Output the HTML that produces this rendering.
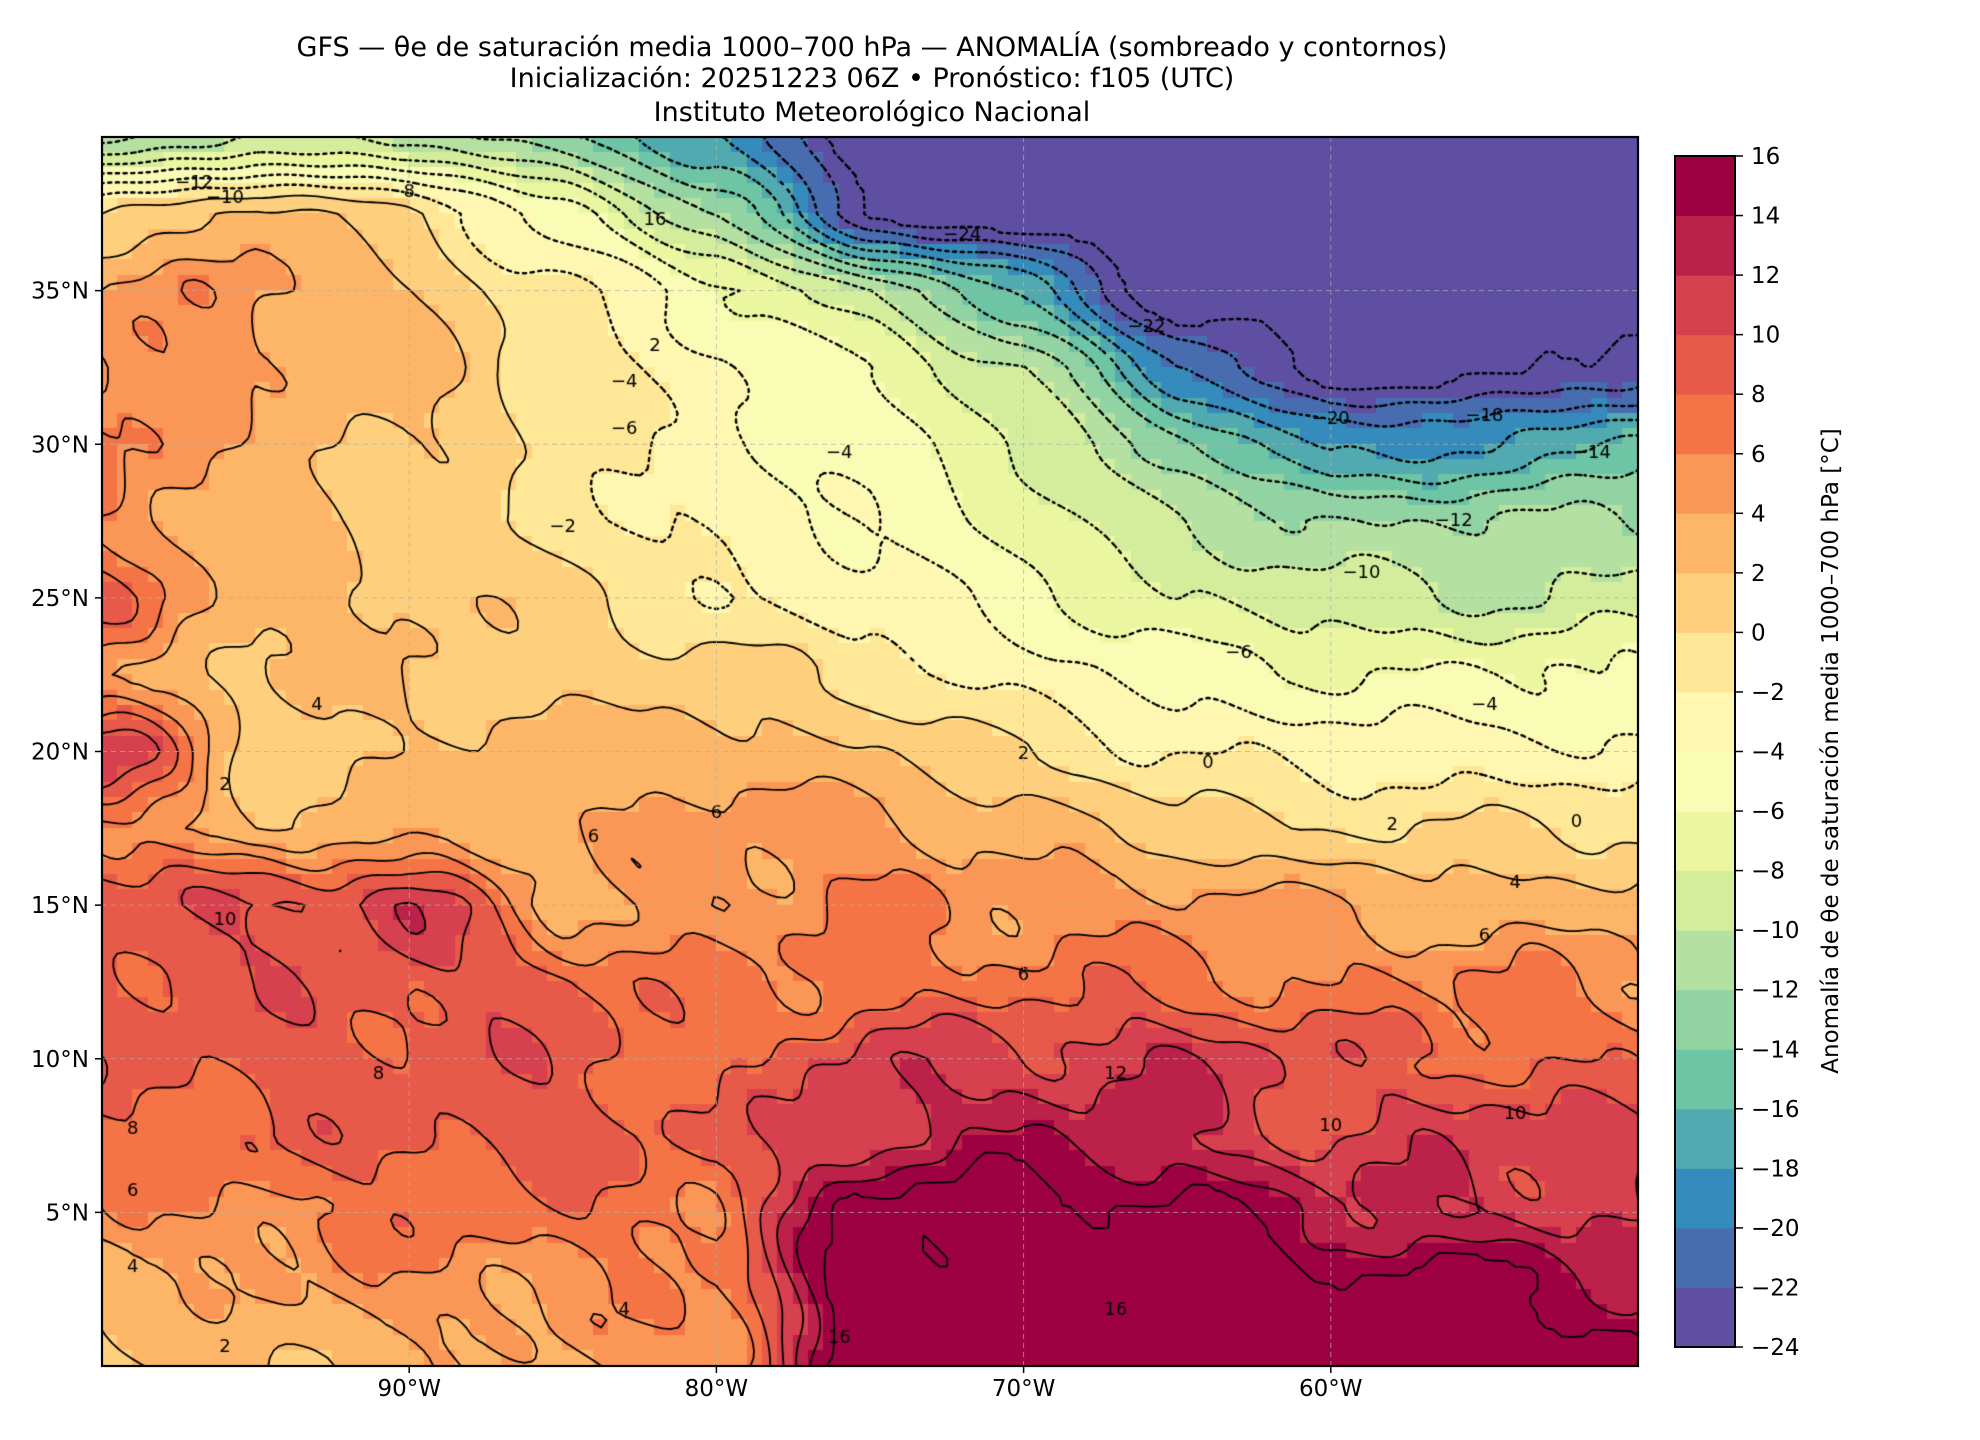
<!DOCTYPE html>
<html><head><meta charset="utf-8"><style>
html,body{margin:0;padding:0;background:#fff;}
#wrap{position:relative;width:1980px;height:1440px;overflow:hidden;font-family:"DejaVu Sans","Liberation Sans",sans-serif;color:#000;}
#cv{position:absolute;left:102px;top:137px;}
svg{position:absolute;left:0;top:0;}
</style></head><body><div id="wrap">
<canvas id="cv" width="1536" height="1229"></canvas>
<svg id="sv" width="1980" height="1440" xmlns="http://www.w3.org/2000/svg" font-family="DejaVu Sans, Liberation Sans, sans-serif">
<g text-anchor="middle" font-size="27">
<text x="872" y="56">GFS — θe de saturación media 1000–700 hPa — ANOMALÍA (sombreado y contornos)</text>
<text x="872" y="87">Inicialización: 20251223 06Z   •   Pronóstico: f105 (UTC)</text>
<text x="872" y="121">Instituto Meteorológico Nacional</text>
</g>
<g id="grid" stroke="#b0b0b0" stroke-width="1" stroke-dasharray="5,4" opacity="0.7"></g>
<rect x="102" y="137" width="1536" height="1229" fill="none" stroke="#000" stroke-width="2.2"/>
<g id="ticks" font-size="23"></g>
<g id="cbar"></g>
<text transform="translate(1838,751) rotate(-90)" text-anchor="middle" font-size="23">Anomalía de θe de saturación media 1000–700 hPa [°C]</text>
</svg>
</div>
<script>
var G=[
[-13,-10,-10,-14,-18,-25,-26,-26,-26,-26,-26],
[0,3,0,-5,-12,-24,-26,-26,-26,-26,-26],
[4,5,2,-2,-5,-10,-17,-26,-26,-26,-26],
[7,4,3,-1,-4,-6,-10,-20,-25,-25,-23],
[7,3,2,-1,-3,-5,-8,-13,-19,-18,-15],
[6,3,1,-1,-3,-4,-7,-10,-12,-12,-12],
[8,3,2,1,-2,-3,-5,-8,-9,-10,-9],
[4,2,2,1,1,-1,-3,-5,-6,-6,-6],
[12,1,2,3,3,2,0,-2,-3,-3,-4],
[7,2,3,4,5,5,3,1,0,0,0],
[9,10,12,3,5,6,5,5,4,3,3],
[9,9,9,9,6,7,7,7,6,6,5],
[9,9,9,9,7,11,11,12,9,8,7],
[7,8,9,9,8,12,14,12,10,11,11],
[5,6,7,7,7,17,17,17,13,12,11],
[3,4,5,5,6,18,18,18,17,17,14],
[2,2,3,4,5,18,18,18,18,18,18]];
function base(lon,lat){
 var r=(40-lat)/2.5,c=(lon+100)/5;
 r=Math.max(0,Math.min(15.999,r));c=Math.max(0,Math.min(9.999,c));
 var r0=Math.floor(r),c0=Math.floor(c),fr=r-r0,fc=c-c0;
 fr=fr*fr*(3-2*fr)*0.5+fr*0.5; fc=fc*fc*(3-2*fc)*0.5+fc*0.5;
 return G[r0][c0]*(1-fr)*(1-fc)+G[r0][c0+1]*(1-fr)*fc+G[r0+1][c0]*fr*(1-fc)+G[r0+1][c0+1]*fr*fc;
}
function f(lon,lat){
 var v=base(lon,lat);
 var n=Math.sin(lon*0.9+lat*0.4)*0.6+Math.sin(lat*1.3-lon*0.5+1.7)*0.5+Math.sin(lon*2.1+lat*1.9)*0.35;
 var amp=v>4?1.3:0.7;
 v=v+n*amp;
 if(v<-24)v=-25; if(v>16)v=17;
 return v;
}
var stops=["#5e4fa2","#3288bd","#66c2a5","#abdda4","#e6f598","#ffffbf","#fee08b","#fdae61","#f46d43","#d53e4f","#9e0142"];
function hx(h){return [parseInt(h.substr(1,2),16),parseInt(h.substr(3,2),16),parseInt(h.substr(5,2),16)];}
function cmap(t){var p=t*10,i=Math.min(9,Math.floor(p)),u=p-i,a=hx(stops[i]),b=hx(stops[i+1]);
 return "rgb("+Math.round(a[0]+(b[0]-a[0])*u)+","+Math.round(a[1]+(b[1]-a[1])*u)+","+Math.round(a[2]+(b[2]-a[2])*u)+")";}
function binColor(v){var i=Math.floor((v+24)/2);i=Math.max(0,Math.min(19,i));return cmap(i/19);}
var W=1536,H=1229,sx=W/50,sy=H/40;
var cv=document.getElementById("cv"),ctx=cv.getContext("2d");
var d=0.5;
for(var lat=40;lat>0;lat-=d){for(var lon=-100;lon<-50;lon+=d){
 var v=f(lon+d/2,lat-d/2);ctx.fillStyle=binColor(v);
 var x0=Math.floor((lon+100)*sx),y0=Math.floor((40-lat)*sy);
 ctx.fillRect(x0,y0,Math.ceil((lon+d+100)*sx)-x0+1,Math.ceil((40-lat+d)*sy)-y0+1);}}
var g=0.25,nx=Math.round(50/g)+1,ny=Math.round(40/g)+1,F=[];
for(var j=0;j<ny;j++){F[j]=[];for(var i=0;i<nx;i++)F[j][i]=f(-100+i*g,40-j*g);}
ctx.strokeStyle="#000";ctx.lineCap="round";
for(var L=-24;L<=16;L+=2){
 ctx.beginPath();
 for(var j=0;j<ny-1;j++)for(var i=0;i<nx-1;i++){
  var a=F[j][i],b=F[j][i+1],c=F[j+1][i+1],e=F[j+1][i],pts=[];
  function cr(v1,v2,x1,y1,x2,y2){if((v1<L)!=(v2<L)){var t=(L-v1)/(v2-v1);pts.push([x1+(x2-x1)*t,y1+(y2-y1)*t]);}}
  cr(a,b,i,j,i+1,j);cr(b,c,i+1,j,i+1,j+1);cr(e,c,i,j+1,i+1,j+1);cr(a,e,i,j,i,j+1);
  for(var k=0;k+1<pts.length;k+=2){
   ctx.moveTo(pts[k][0]*g*sx,pts[k][1]*g*sy);ctx.lineTo(pts[k+1][0]*g*sx,pts[k+1][1]*g*sy);}
 }
 if(L<0){ctx.setLineDash([1.5,4.5]);ctx.lineWidth=2.4;}else{ctx.setLineDash([]);ctx.lineWidth=1.8;}
 ctx.stroke();
}
ctx.setLineDash([]);ctx.font="18px 'DejaVu Sans',sans-serif";ctx.fillStyle="#000";ctx.textAlign="center";ctx.textBaseline="middle";
var labs=[[-97,38.5,"-12"],[-96,38,"-10"],[-90,38.2,"8"],[-82,37.3,"16"],[-72,36.8,"-24"],[-66,33.8,"-22"],[-60,30.8,"-20"],[-55,30.9,"-18"],[-51.5,29.7,"-14"],[-56,27.5,"-12"],[-59,25.8,"-10"],[-63,23.2,"-6"],[-55,21.5,"-4"],[-82,33.2,"2"],[-83,32,"-4"],[-83,30.5,"-6"],[-76,29.7,"-4"],[-85,27.3,"-2"],[-70,19.9,"2"],[-64,19.6,"0"],[-58,17.6,"2"],[-52,17.7,"0"],[-54,15.7,"4"],[-55,14,"6"],[-93,21.5,"4"],[-96,18.9,"2"],[-84,17.2,"6"],[-80,18,"6"],[-70,12.7,"6"],[-96,14.5,"10"],[-91,9.5,"8"],[-99,7.7,"8"],[-99,5.7,"6"],[-99,3.2,"4"],[-96,0.6,"2"],[-83,1.8,"4"],[-67,9.5,"12"],[-60,7.8,"10"],[-54,8.2,"10"],[-67,1.8,"16"],[-76,0.9,"16"]];
labs.forEach(function(l){var x=(l[0]+100)*sx,y=(40-l[1])*sy;ctx.fillText(l[2].replace("-","−"),x,y);});
var ns="http://www.w3.org/2000/svg";
function el(t,at,par,txt){var e=document.createElementNS(ns,t);for(var k in at)e.setAttribute(k,at[k]);if(txt!=null)e.textContent=txt;document.getElementById(par).appendChild(e);return e;}
[-90,-80,-70,-60].forEach(function(lo){var x=102+(lo+100)*sx;el("line",{x1:x,y1:137,x2:x,y2:1366},"grid");
 el("line",{x1:x,y1:1366,x2:x,y2:1373,stroke:"#000","stroke-width":1.5},"ticks");
 el("text",{x:x,y:1396,"text-anchor":"middle"},"ticks",(-lo)+"°W");});
[5,10,15,20,25,30,35].forEach(function(la){var y=137+(40-la)*sy;el("line",{x1:102,y1:y,x2:1638,y2:y},"grid");
 el("line",{x1:95,y1:y,x2:102,y2:y,stroke:"#000","stroke-width":1.5},"ticks");
 el("text",{x:89,y:y+8,"text-anchor":"end"},"ticks",la+"°N");});
var cx=1675,cw=60,ct=156,cb=1347,ch=(cb-ct)/20;
for(var i=0;i<20;i++){el("rect",{x:cx,y:cb-(i+1)*ch-0.5,width:cw,height:ch+1,fill:cmap(i/19)},"cbar");}
el("rect",{x:cx,y:ct,width:cw,height:cb-ct,fill:"none",stroke:"#000","stroke-width":2},"cbar");
for(var i=0;i<=20;i++){var v=-24+2*i,y=cb-i*ch;
 el("line",{x1:cx+cw,y1:y,x2:cx+cw+8,y2:y,stroke:"#000","stroke-width":1.5},"cbar");
 el("text",{x:cx+cw+16,y:y+8,"font-size":23},"cbar",(v<0?"−":"")+Math.abs(v));}
</script>
</body></html>
